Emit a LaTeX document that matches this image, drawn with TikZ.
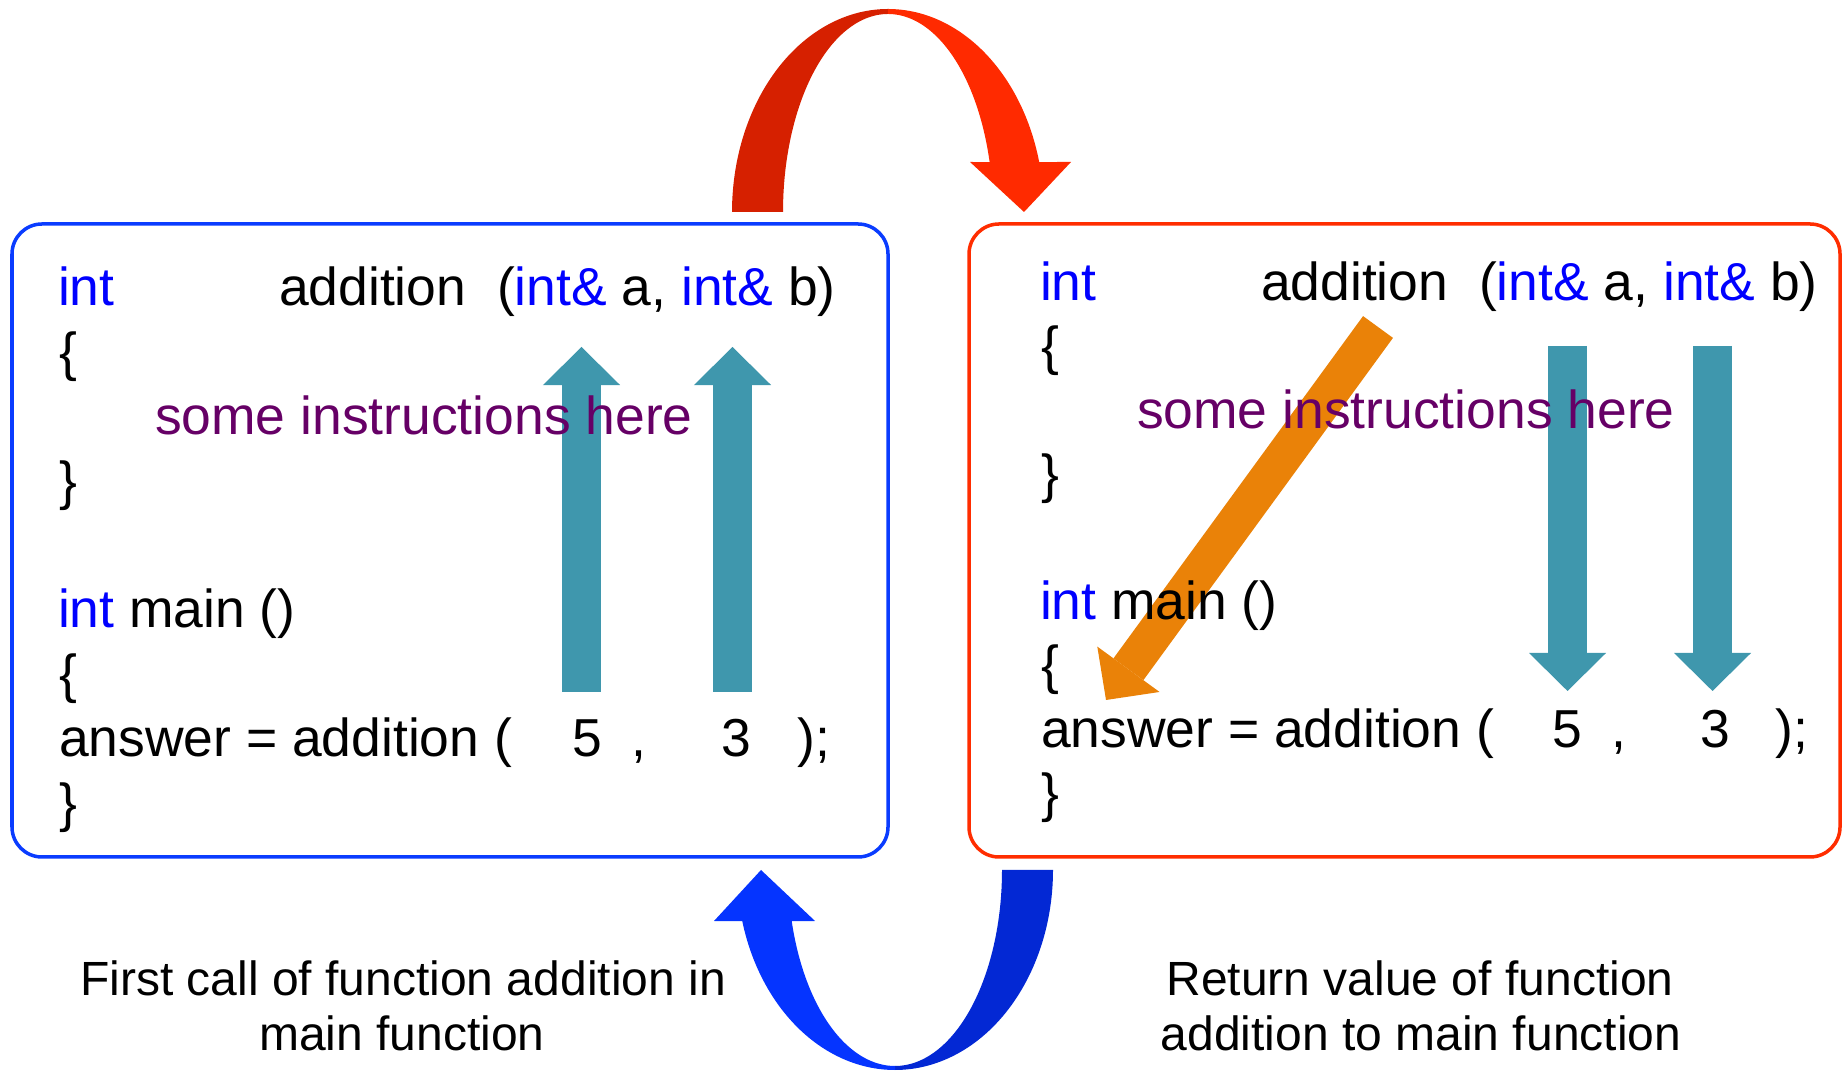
\documentclass[tikz,border=0pt]{standalone}
\usepackage{fontspec}
\setmainfont{Liberation Sans}
\usetikzlibrary{arrows.meta}
\definecolor{kw}{RGB}{0,0,255}
\definecolor{instr}{RGB}{102,0,102}
\definecolor{boxblue}{RGB}{10,60,255}
\definecolor{boxred}{RGB}{255,45,0}
\definecolor{redD}{RGB}{214,32,0}
\definecolor{redB}{RGB}{255,42,0}
\definecolor{blueB}{RGB}{5,52,255}
\definecolor{blueD}{RGB}{3,40,212}
\definecolor{tealA}{RGB}{63,151,173}
\definecolor{orangeA}{RGB}{234,130,8}
\begin{document}
\begin{tikzpicture}[x=0.01cm,y=-0.01cm,
  codebox/.style={line width=0.035cm, rounded corners=0.3cm},
  codetxt/.style={anchor=base west, inner sep=0pt, outer sep=0pt, font=\fontsize{15.2pt}{18pt}\selectfont},
  desc/.style={anchor=base, inner sep=0pt, outer sep=0pt, font=\fontsize{13.65pt}{16pt}\selectfont},
  blockarrow/.style={line width=0.39cm, -{Triangle[width=0.77cm,length=0.38cm,line width=0pt]}},
]
\useasboundingbox (0,0) rectangle (1843,1071);

% boxes
\draw[codebox, boxblue] (12,224) rectangle (888,857);
\draw[codebox, boxred] (969,224) rectangle (1840,857);

% red curved arrow (top)
\fill[redD] plot[domain=180:270,samples=60] ({888+156*cos(\x)},{212+203*sin(\x)})
  -- plot[domain=270:180,samples=60] ({888+105*cos(\x)},{212+198*sin(\x)}) -- cycle;
\fill[redB] plot[domain=270:345.75,samples=60] ({888+156*cos(\x)},{212+203*sin(\x)})
  -- (1071,162) -- (1024,212) -- (970,162)
  -- plot[domain=345.4:270,samples=60] ({888+105*cos(\x)},{212+198*sin(\x)}) -- cycle;

% blue curved arrow (bottom)
\fill[blueD] plot[domain=0:90,samples=60] ({895+158*cos(\x)},{870+200*sin(\x)})
  -- plot[domain=90:0,samples=60] ({895+107*cos(\x)},{870+196*sin(\x)}) -- cycle;
\fill[blueB] plot[domain=90:165.2,samples=60] ({895+158*cos(\x)},{870+200*sin(\x)})
  -- (714,921) -- (761,870) -- (815,921)
  -- plot[domain=164.9:90,samples=60] ({895+107*cos(\x)},{870+196*sin(\x)}) -- cycle;

% teal arrows, left box (upwards)
\coordinate (la1s) at (581.5,692); \coordinate (la1e) at (581.5,347);
\coordinate (la2s) at (732.5,692); \coordinate (la2e) at (732.5,347);
\draw[blockarrow, tealA] (la1s) -- (la1e);
\draw[blockarrow, tealA] (la2s) -- (la2e);

% teal arrows, right box (downwards)
\coordinate (ra1s) at (1567.5,346); \coordinate (ra1e) at (1567.5,691);
\coordinate (ra2s) at (1712.5,346); \coordinate (ra2e) at (1712.5,691);
\draw[blockarrow, tealA] (ra1s) -- (ra1e);
\draw[blockarrow, tealA] (ra2s) -- (ra2e);

% orange return arrow
\coordinate (os) at (1378,327); \coordinate (oe) at (1106,700);
\draw[blockarrow, orangeA, line width=0.37cm] (os) -- (oe);

% left box code
\node[codetxt] (l1a) at (58,306) {\textcolor{kw}{int}};
\node[codetxt] (l1b) at (279,306) {addition};
\node[codetxt] (l1c) at (497,306) {(\textcolor{kw}{int\&} a, \textcolor{kw}{int\&} b)};
\node[codetxt] (l2) at (59,370.4) {\{};
\node[codetxt, text=instr] (l3) at (155,434.8) {some instructions here};
\node[codetxt] (l4) at (59,499.2) {\}};
\node[codetxt] (l6) at (58,628) {\textcolor{kw}{int} main ()};
\node[codetxt] (l7) at (59,692.4) {\{};
\node[codetxt] (l8) at (59,756.8) {answer = addition (};
\node[codetxt] (l8a) at (572,756.8) {5};
\node[codetxt] (l8b) at (631,756.8) {,};
\node[codetxt] (l8c) at (721,756.8) {3};
\node[codetxt] (l8d) at (797.5,756.8) {);};
\node[codetxt] (l9) at (59,821.2) {\}};

% right box code
\node[codetxt] (r1a) at (1040,301) {\textcolor{kw}{int}};
\node[codetxt] (r1b) at (1261,301) {addition};
\node[codetxt] (r1c) at (1479,301) {(\textcolor{kw}{int\&} a, \textcolor{kw}{int\&} b)};
\node[codetxt] (r2) at (1041,364.8) {\{};
\node[codetxt, text=instr] (r3) at (1137,428.6) {some instructions here};
\node[codetxt] (r4) at (1041,492.4) {\}};
\node[codetxt] (r6) at (1040,620) {\textcolor{kw}{int} main ()};
\node[codetxt] (r7) at (1041,683.8) {\{};
\node[codetxt] (r8) at (1041,747.6) {answer = addition (};
\node[codetxt] (r8a) at (1552,747.6) {5};
\node[codetxt] (r8b) at (1611,747.6) {,};
\node[codetxt] (r8c) at (1700,747.6) {3};
\node[codetxt] (r8d) at (1775.5,747.6) {);};
\node[codetxt] (r9) at (1041,811.4) {\}};

% captions
\node[desc] (c1a) at (403,995) {First call of function addition in};
\node[desc] (c1b) at (402,1050) {main function};
\node[desc] (c2a) at (1420,995) {Return value of function};
\node[desc] (c2b) at (1421,1050) {addition to main function};
\end{tikzpicture}
\end{document}
